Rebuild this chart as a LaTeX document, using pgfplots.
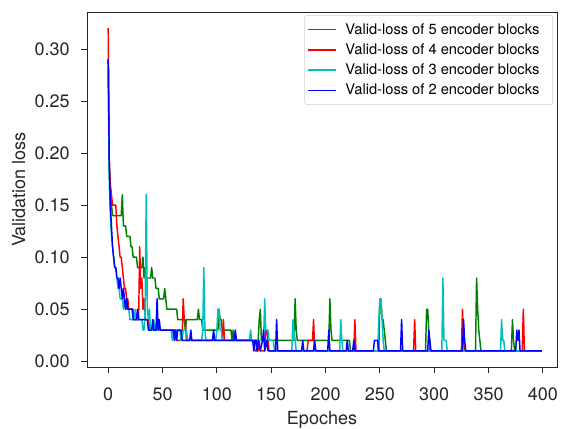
\documentclass[border=0pt]{standalone}
\usepackage{pgfplots}
\pgfplotsset{compat=1.18}
\usepackage{fontspec}
\setmainfont{TeX Gyre Heros}

\definecolor{mplgreen}{RGB}{0,128,0}
\definecolor{mplred}{RGB}{255,0,0}
\definecolor{mplcyan}{RGB}{0,191,191}
\definecolor{mplblue}{RGB}{0,0,255}

\begin{document}
\begin{tikzpicture}
\begin{axis}[
    scale only axis,
    width=352.5pt, height=266.25pt,
    xmin=-19.5, xmax=413,
    ymin=-0.0055, ymax=0.3355,
    xtick={0,50,...,400},
    ytick={0,0.05,0.10,0.15,0.20,0.25,0.30},
    /pgf/number format/assume math mode=true,
    tick label style={font=\fontsize{13.5}{16}\selectfont, text=black!85},
    xticklabel style={yshift=-7.5pt},
    yticklabel style={xshift=-5pt, /pgf/number format/.cd, fixed, fixed zerofill, precision=2},
    label style={font=\fontsize{13.5}{16}\selectfont, text=black!85},
    tick align=outside,
    tick pos=left,
    major tick length=4.5pt,
    axis line style={line width=0.6pt, black!85},
    every tick/.style={black!85, line width=0.6pt},
    xlabel={Epoches},
    ylabel={Validation loss},
    xlabel style={at={(rel axis cs:0.5,0)}, anchor=center, yshift=-39.3pt},
    ylabel style={at={(rel axis cs:0,0.5)}, anchor=center, yshift=51.2pt},
    legend style={at={(0.9915,0.9915)}, anchor=north east,
        draw=black!18, rounded corners=2pt,
        font=\fontsize{11}{13}\selectfont,
        inner xsep=2pt, inner ysep=4pt, row sep=1.6pt,
        /tikz/every odd column/.style={column sep=4.5pt}},
    legend cell align=left,
    legend image code/.code={\draw[#1] (0pt,0pt) -- (21pt,0pt);},
]

% 5 encoder blocks
\addplot[mplgreen, line width=1.1pt, line join=round] coordinates {
(0,0.29)(1,0.19)(2,0.16)(3,0.15)(4,0.14)(12,0.14)(13,0.16)(14,0.13)(16,0.13)(17,0.12)(20,0.12)(21,0.11)(22,0.11)(23,0.10)(26,0.10)(27,0.09)(31,0.09)(32,0.10)(33,0.08)(34,0.09)(35,0.08)(39,0.08)(40,0.09)(41,0.08)(43,0.08)(44,0.07)(46,0.07)(47,0.06)(51,0.06)(52,0.07)(53,0.06)(54,0.05)(63,0.05)(64,0.04)(70,0.04)(71,0.03)(72,0.04)(82,0.04)(83,0.05)(84,0.04)(86,0.04)(87,0.03)(101,0.03)(102,0.05)(103,0.04)(104,0.04)(105,0.03)(113,0.03)(114,0.02)(115,0.03)(116,0.02)
(138,0.02)(139,0.04)(140,0.05)(141,0.02)(171,0.02)(172,0.06)(173,0.03)(174,0.02)(203,0.02)(204,0.06)(205,0.03)(206,0.02)(222,0.02)(223,0.01)
(249,0.01)(250,0.06)(251,0.06)(252,0.04)(253,0.04)(254,0.03)(255,0.02)(256,0.01)(292,0.01)(293,0.05)(294,0.05)(295,0.03)(296,0.01)
(338,0.01)(339,0.08)(340,0.05)(341,0.03)(342,0.02)(343,0.01)(371,0.01)(372,0.04)(373,0.02)(374,0.01)(399,0.01)
};
\addlegendentry{Valid-loss of 5 encoder blocks\hspace*{6pt}\mbox{}}

% 4 encoder blocks
\addplot[mplred, line width=1.1pt, line join=round] coordinates {
(0,0.32)(1,0.19)(2,0.17)(3,0.16)(4,0.15)(7,0.15)(8,0.13)(9,0.12)(10,0.11)(11,0.10)(12,0.10)(13,0.09)(14,0.08)(15,0.07)(16,0.07)(17,0.06)(18,0.06)(19,0.05)(23,0.05)(24,0.04)(28,0.04)(29,0.11)(30,0.07)(31,0.08)(32,0.05)(33,0.06)(34,0.04)(37,0.04)(38,0.03)(44,0.03)(45,0.04)(46,0.03)(62,0.03)(63,0.02)(68,0.02)(69,0.06)(70,0.04)(71,0.04)(72,0.02)(105,0.02)(106,0.04)(107,0.02)(134,0.02)(135,0.01)(138,0.01)(139,0.02)(140,0.01)(144,0.01)(145,0.03)(146,0.03)(147,0.02)(148,0.01)
(183,0.01)(184,0.02)(188,0.02)(189,0.04)(190,0.01)(226,0.01)(227,0.04)(228,0.01)(281,0.01)(282,0.04)(283,0.01)(325,0.01)(326,0.05)(327,0.02)(328,0.01)(381,0.01)(382,0.05)(383,0.01)(399,0.01)
};
\addlegendentry{Valid-loss of 4 encoder blocks\hspace*{6pt}\mbox{}}

% 3 encoder blocks
\addplot[mplcyan, line width=1.1pt, line join=round] coordinates {
(0,0.29)(1,0.17)(2,0.14)(3,0.12)(4,0.11)(5,0.10)(6,0.09)(7,0.09)(8,0.08)(9,0.07)(10,0.07)(11,0.06)(13,0.06)(14,0.05)(15,0.06)(16,0.05)(19,0.05)(20,0.04)(24,0.04)(25,0.05)(26,0.04)(31,0.04)(32,0.03)(33,0.03)(34,0.05)(35,0.16)(36,0.05)(37,0.04)(38,0.05)(39,0.03)(41,0.03)(42,0.04)(43,0.03)(58,0.03)(59,0.02)(60,0.03)(61,0.02)(62,0.03)(66,0.03)(67,0.02)(68,0.02)(69,0.03)(72,0.03)(73,0.02)
(86,0.02)(87,0.03)(88,0.09)(89,0.03)(90,0.02)(99,0.02)(100,0.03)(101,0.05)(102,0.05)(103,0.03)(104,0.03)(105,0.02)(130,0.02)(131,0.03)(132,0.02)(143,0.02)(144,0.06)(145,0.03)(147,0.03)(148,0.02)(152,0.02)(153,0.01)
(169,0.01)(170,0.04)(171,0.03)(172,0.02)(173,0.01)(213,0.01)(214,0.04)(215,0.02)(216,0.01)(248,0.01)(249,0.04)(250,0.06)(251,0.06)(252,0.04)(253,0.02)(254,0.01)
(307,0.01)(308,0.08)(309,0.02)(311,0.02)(312,0.01)(361,0.01)(362,0.04)(363,0.02)(364,0.02)(365,0.01)(399,0.01)
};
\addlegendentry{Valid-loss of 3 encoder blocks\hspace*{6pt}\mbox{}}

% 2 encoder blocks
\addplot[mplblue, line width=1.1pt, line join=round] coordinates {
(0,0.29)(1,0.19)(2,0.15)(3,0.13)(4,0.11)(5,0.10)(6,0.09)(7,0.09)(8,0.08)(9,0.08)(10,0.07)(11,0.08)(12,0.07)(13,0.06)(14,0.07)(15,0.06)(16,0.05)(17,0.06)(18,0.05)(22,0.05)(23,0.04)(26,0.04)(27,0.05)(28,0.04)(36,0.04)(37,0.03)(40,0.03)(41,0.04)(42,0.03)(44,0.03)(45,0.06)(46,0.03)(47,0.04)(48,0.03)(60,0.03)(61,0.02)(62,0.03)(63,0.02)(64,0.03)(67,0.03)(68,0.02)
(75,0.02)(76,0.03)(77,0.02)(96,0.02)(97,0.03)(98,0.02)(116,0.02)(117,0.03)(118,0.02)(133,0.02)(134,0.01)(135,0.02)(136,0.02)(137,0.01)(138,0.02)(140,0.01)(142,0.02)(143,0.03)(144,0.01)(146,0.02)(147,0.01)
(154,0.01)(155,0.04)(156,0.01)(178,0.01)(179,0.02)(180,0.01)(189,0.01)(190,0.02)(191,0.01)(202,0.01)(203,0.03)(204,0.01)(219,0.01)(220,0.02)(221,0.01)(225,0.01)(226,0.02)(227,0.01)(244,0.01)(245,0.02)(248,0.02)(249,0.01)
(269,0.01)(270,0.04)(271,0.01)(294,0.01)(295,0.03)(296,0.02)(297,0.01)(326,0.01)(327,0.04)(328,0.02)(329,0.01)(375,0.01)(376,0.03)(377,0.02)(378,0.03)(379,0.01)(399,0.01)
};
\addlegendentry{Valid-loss of 2 encoder blocks\hspace*{6pt}\mbox{}}

\coordinate (sw) at (rel axis cs:0,0);
\end{axis}
\pgfresetboundingbox
\path[use as bounding box] (sw) ++(-65.25pt,-45.75pt) rectangle ++(422.25pt,321pt);
\end{tikzpicture}
\end{document}
